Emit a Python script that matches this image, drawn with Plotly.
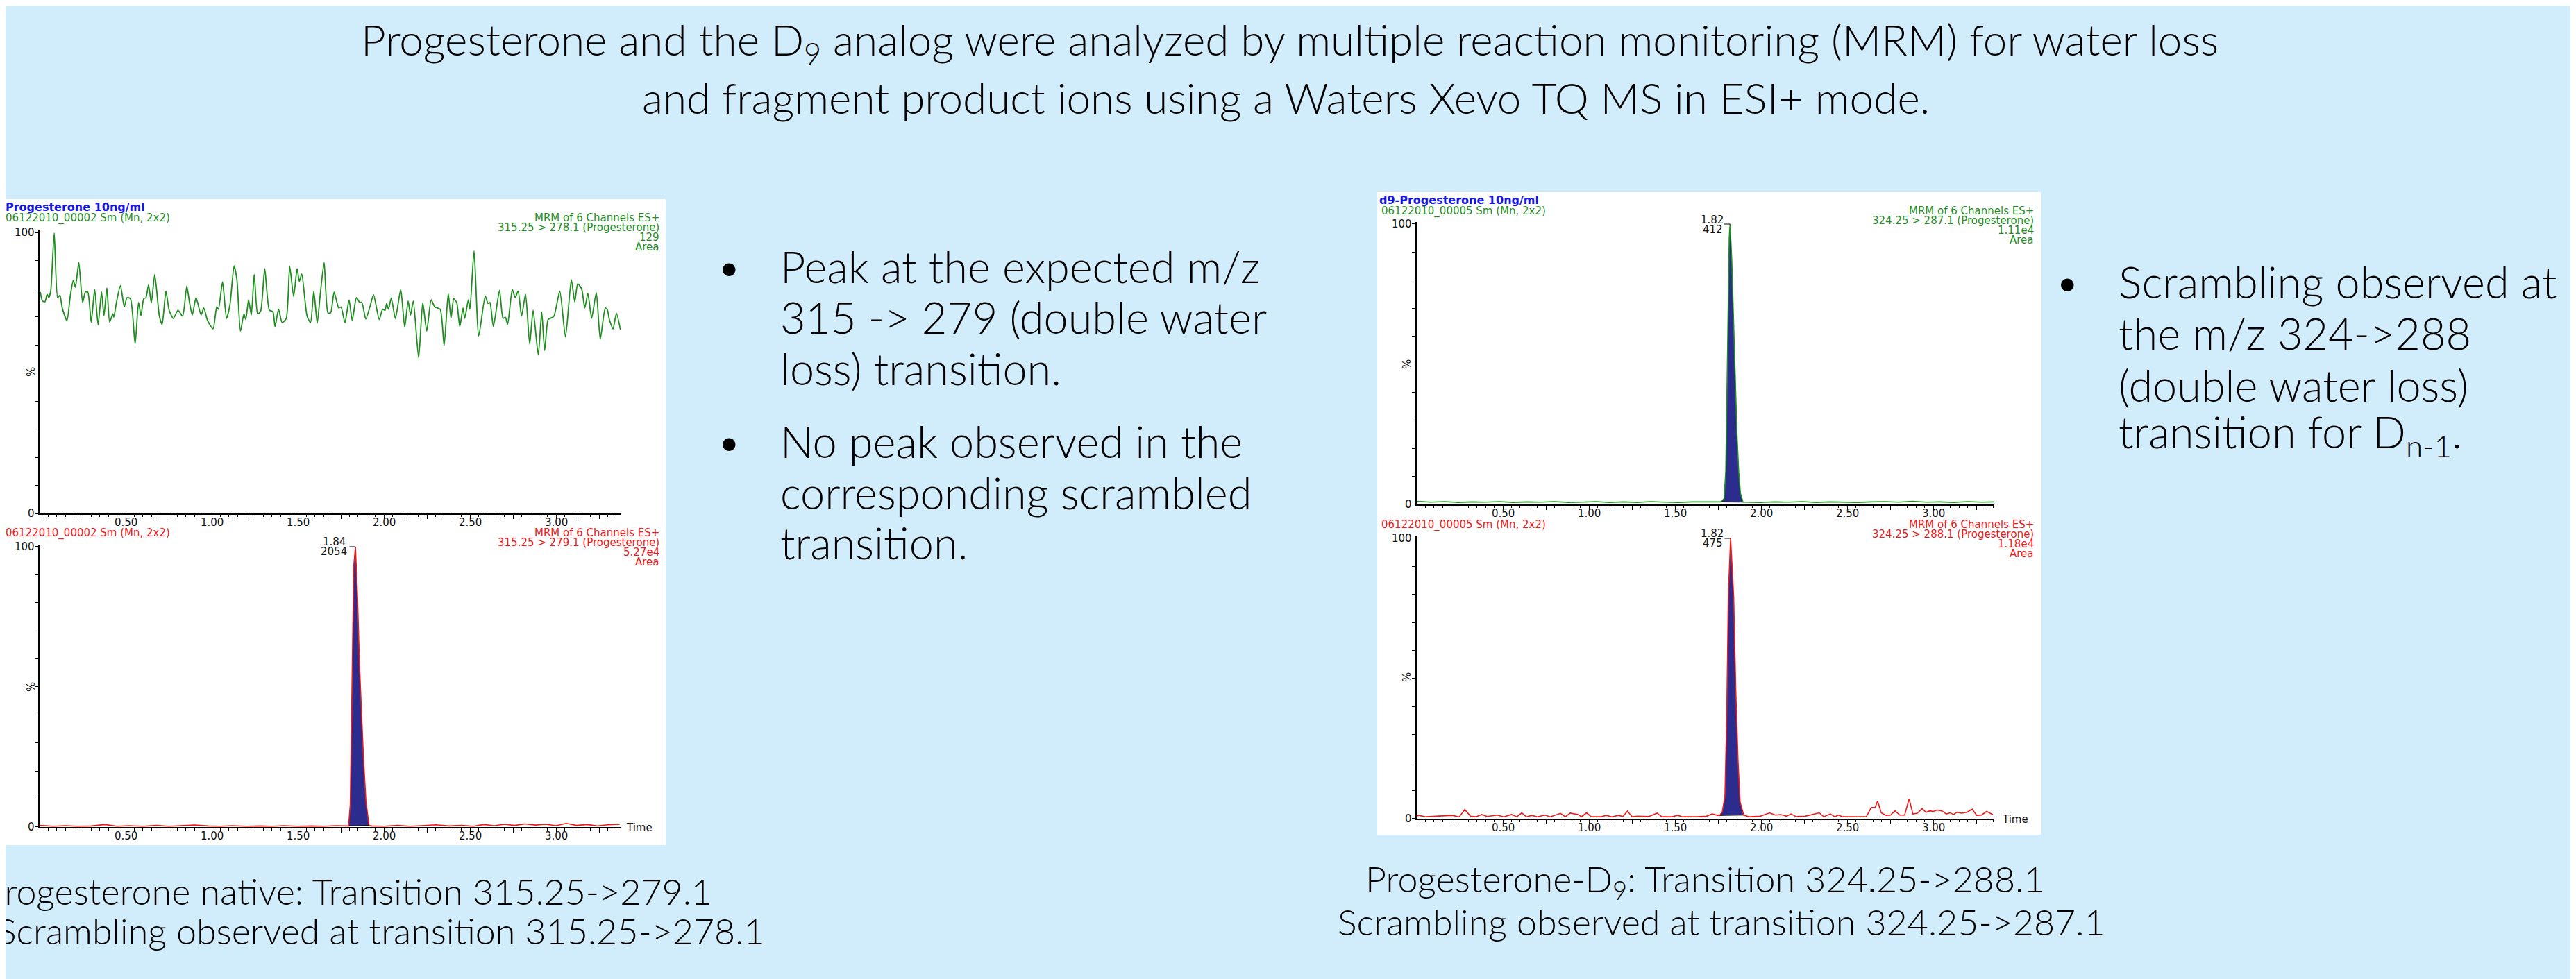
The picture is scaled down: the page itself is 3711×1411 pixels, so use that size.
import plotly.graph_objects as go

# ---------------- data ----------------
# Top-left: Progesterone 10ng/ml, 315.25 > 278.1 (green noise trace)
lt_time = [0.004, 0.017, 0.031, 0.044, 0.054, 0.065, 0.085, 0.105, 0.118, 0.132,
           0.159, 0.179, 0.196, 0.208, 0.228, 0.250, 0.266, 0.280, 0.300, 0.320,
           0.340, 0.360, 0.374, 0.391, 0.407, 0.425, 0.431, 0.448, 0.470, 0.492,
           0.508, 0.528, 0.555, 0.575, 0.589, 0.605, 0.618, 0.633, 0.649, 0.669,
           0.696, 0.712, 0.734, 0.753, 0.777, 0.804, 0.831, 0.855, 0.871, 0.887,
           0.909, 0.938, 0.954, 0.976, 1.008, 1.029, 1.039, 1.063, 1.086, 1.106,
           1.130, 1.146, 1.167, 1.187, 1.198, 1.214, 1.230, 1.247, 1.267, 1.284,
           1.308, 1.335, 1.355, 1.368, 1.388, 1.409, 1.433, 1.453, 1.476, 1.496,
           1.509, 1.523, 1.554, 1.574, 1.593, 1.613, 1.630, 1.653, 1.675,
           1.691, 1.711, 1.738, 1.751, 1.774, 1.798, 1.816, 1.841, 1.859, 1.872,
           1.895, 1.919, 1.940, 1.973, 1.993, 2.007, 2.016, 2.027, 2.043, 2.067,
           2.098, 2.121, 2.141, 2.155, 2.171, 2.202, 2.226, 2.249, 2.275, 2.296,
           2.327, 2.350, 2.374, 2.390, 2.406, 2.423, 2.441, 2.460, 2.470, 2.491,
           2.500, 2.524, 2.551, 2.589, 2.605, 2.616, 2.636, 2.672, 2.692, 2.706,
           2.719, 2.746, 2.763, 2.780, 2.800, 2.823, 2.847, 2.867, 2.897, 2.917,
           2.934, 2.954, 2.970, 2.988, 3.022, 3.055, 3.089, 3.109, 3.126, 3.149,
           3.167, 3.185, 3.207, 3.234, 3.257, 3.286, 3.297, 3.310, 3.331, 3.351,
           3.374]
lt_pct = [78.8, 75.6, 75.3, 78.0, 76.8, 79.3, 99.8, 76.8, 77.6, 73.1,
          68.6, 77.6, 83.0, 80.5, 89.3, 75.1, 78.8, 78.8, 68.1, 79.7,
          67.1, 78.8, 70.4, 80.2, 68.1, 71.0, 69.8, 75.6, 81.1, 73.5,
          76.8, 76.4, 60.3, 75.1, 70.4, 76.4, 76.8, 81.3, 74.9, 85.0,
          70.2, 67.3, 79.1, 72.3, 69.4, 72.3, 70.2, 80.9, 75.1, 70.6,
          76.8, 70.6, 73.1, 68.6, 65.7, 73.5, 72.7, 82.4, 69.4, 74.3,
          88.1, 83.4, 64.9, 71.0, 69.0, 76.0, 70.6, 85.0, 71.0, 71.9,
          87.1, 72.3, 71.9, 66.5, 72.7, 67.9, 69.4, 87.9, 77.2, 87.1,
          82.6, 85.2, 70.2, 67.9, 79.1, 67.7, 77.6, 89.3, 71.4,
          71.4, 78.8, 73.1, 73.5, 67.9, 76.0, 68.7, 76.8, 75.1, 75.1,
          69.2, 73.5, 77.8, 69.0, 72.7, 72.3, 74.7, 72.7, 76.6, 69.4,
          79.7, 66.3, 75.6, 70.6, 75.6, 55.4, 75.0, 64.9, 76.0, 73.5,
          72.7, 59.7, 78.3, 69.5, 76.4, 75.1, 66.5, 73.1, 69.4, 76.1,
          72.7, 93.4, 63.2, 77.4, 74.7, 75.1, 66.5, 79.4, 69.4, 69.8,
          67.3, 79.7, 76.8, 79.1, 70.2, 78.0, 60.3, 72.3, 56.4, 71.7,
          58.0, 69.0, 69.5, 70.2, 79.1, 62.8, 83.2, 75.3, 81.7, 79.9,
          73.1, 78.3, 69.5, 78.6, 62.0, 73.1, 72.7, 69.0, 65.7, 71.2,
          65.4]

# Bottom-left: 315.25 > 279.1 (red), peak at 1.84
lb_pre_time = [0.0, 0.08, 0.15, 0.22, 0.30, 0.38, 0.45, 0.52, 0.60, 0.68, 0.75, 0.82, 0.90,
               0.98, 1.05, 1.12, 1.20, 1.28, 1.35, 1.42, 1.50, 1.58, 1.65, 1.72, 1.78]
lb_pre_pct = [0.6, 0.3, 0.5, 0.3, 0.4, 0.9, 0.3, 0.5, 0.3, 0.6, 0.3, 0.5, 0.7,
              0.4, 0.3, 0.5, 0.3, 0.4, 0.3, 0.5, 0.3, 0.4, 0.3, 0.5, 0.3]
lb_peak_time = [1.795, 1.805, 1.815, 1.825, 1.835, 1.847, 1.859, 1.870, 1.882, 1.896, 1.914]
lb_peak_pct = [0.4, 8, 50, 93, 100, 82, 57, 40, 24, 9, 0.6]
lb_post_time = [1.93, 2.00, 2.08, 2.15, 2.22, 2.30, 2.38, 2.45, 2.52, 2.58, 2.64, 2.70,
                2.76, 2.82, 2.88, 2.94, 3.00, 3.06, 3.12, 3.18, 3.24, 3.30, 3.37]
lb_post_pct = [0.4, 0.3, 0.6, 0.3, 0.5, 0.8, 0.4, 0.6, 0.3, 0.9, 0.5, 1.0,
               0.6, 1.1, 0.7, 1.0, 0.5, 1.3, 0.6, 0.9, 0.4, 0.8, 1.0]

# Top-right: d9-Progesterone, 324.25 > 287.1 (green), peak at 1.82
rt_pre_time = [0.0, 0.08, 0.16, 0.24, 0.32, 0.40, 0.48, 0.56, 0.64, 0.72, 0.80, 0.88,
               0.96, 1.04, 1.12, 1.20, 1.28, 1.36, 1.44, 1.52, 1.60, 1.68, 1.74]
rt_pre_pct = [1.1, 0.8, 1.0, 0.7, 0.9, 0.8, 1.0, 0.7, 0.9, 0.8, 1.0, 0.7,
              0.8, 1.0, 0.7, 0.9, 0.7, 1.0, 0.8, 0.7, 0.9, 0.8, 0.9]
rt_peak_time = [1.765, 1.785, 1.795, 1.805, 1.815, 1.820, 1.830, 1.840, 1.850, 1.860, 1.870, 1.880, 1.895]
rt_peak_pct = [0.9, 2, 12, 55, 95, 100, 87, 66, 44, 25, 12, 4, 0.8]
rt_post_time = [1.92, 2.00, 2.08, 2.16, 2.24, 2.32, 2.40, 2.48, 2.56, 2.64, 2.72, 2.80,
                2.88, 2.96, 3.04, 3.12, 3.20, 3.28, 3.355]
rt_post_pct = [0.8, 0.7, 0.9, 0.8, 1.0, 0.7, 0.9, 0.8, 0.7, 0.9, 1.0, 0.8,
               1.1, 0.8, 0.9, 0.7, 1.0, 0.8, 0.9]

# Bottom-right: 324.25 > 288.1 (red), peak at 1.82 plus scrambling bumps
rb_pre_time = [0.0, 0.010, 0.053, 0.117, 0.204, 0.247, 0.279, 0.312, 0.344, 0.377,
               0.409, 0.467, 0.506, 0.550, 0.582, 0.610, 0.636, 0.668, 0.701, 0.744,
               0.776, 0.835, 0.863, 0.891, 0.938, 0.956, 0.986, 1.014, 1.068, 1.100,
               1.133, 1.171, 1.198, 1.224, 1.251, 1.284, 1.349, 1.396, 1.424, 1.478,
               1.517, 1.543, 1.629, 1.683, 1.716, 1.748]
rb_pre_pct = [1.0, 1.2, 0.7, 0.9, 1.2, 0.7, 3.3, 0.9, 0.7, 1.5,
              0.8, 1.3, 0.7, 1.5, 0.7, 2.1, 0.7, 1.2, 0.7, 1.3,
              0.7, 1.9, 0.7, 2.0, 1.5, 0.7, 2.1, 0.7, 0.7, 1.2,
              0.7, 1.2, 0.8, 2.7, 0.7, 0.9, 0.8, 2.0, 0.7, 0.7,
              1.2, 0.7, 0.7, 0.9, 1.7, 1.2]
rb_peak_time = [1.760, 1.775, 1.790, 1.800, 1.810, 1.823, 1.830, 1.841, 1.853, 1.866, 1.878, 1.899]
rb_peak_pct = [1.2, 2.5, 8, 35, 80, 100, 93, 79, 46, 21, 6, 1.3]
rb_post_time = [1.932, 1.996, 2.050, 2.083, 2.115, 2.148, 2.174, 2.202, 2.256,
                2.310, 2.338, 2.364, 2.403, 2.428, 2.450, 2.472, 2.504, 2.580, 2.612,
                2.640, 2.662, 2.677, 2.698, 2.726, 2.752, 2.778, 2.806, 2.834, 2.860,
                2.882, 2.908, 2.936, 2.958, 2.979, 3.001, 3.022, 3.050, 3.076, 3.098,
                3.119, 3.137, 3.163, 3.195, 3.227, 3.253, 3.281, 3.310, 3.346]
rb_post_pct = [0.7, 0.9, 2.1, 1.3, 1.5, 0.9, 1.7, 0.8, 0.9,
               1.7, 2.1, 0.7, 1.7, 0.7, 1.3, 0.7, 0.7, 0.7, 0.8,
               4.0, 4.0, 6.3, 2.1, 1.2, 1.3, 2.8, 1.3, 1.3, 7.1,
               1.7, 2.0, 3.6, 2.3, 2.8, 2.6, 3.1, 2.8, 1.7, 2.1,
               1.5, 2.3, 2.0, 2.3, 3.4, 1.2, 1.3, 2.6, 1.5]

# axis ticks
x_tick_values = [0.25, 0.50, 0.75, 1.00, 1.25, 1.50, 1.75, 2.00, 2.25, 2.50, 2.75, 3.00, 3.25]
x_label_values = [0.50, 1.00, 1.50, 2.00, 2.50, 3.00]
x_label_texts = ["0.50", "1.00", "1.50", "2.00", "2.50", "3.00"]
y_tick_values = [0, 10, 20, 30, 40, 50, 60, 70, 80, 90, 100]
y_label_values = [0, 100]
y_label_texts = ["0", "100"]

# chart header texts
lt_title = "Progesterone 10ng/ml"
rt_title = "d9-Progesterone 10ng/ml"
left_file = "06122010_00002 Sm (Mn, 2x2)"
right_file = "06122010_00005 Sm (Mn, 2x2)"
lt_info = ["MRM of 6 Channels ES+", "315.25 > 278.1 (Progesterone)", "129", "Area"]
lb_info = ["MRM of 6 Channels ES+", "315.25 > 279.1 (Progesterone)", "5.27e4", "Area"]
rt_info = ["MRM of 6 Channels ES+", "324.25 > 287.1 (Progesterone)", "1.11e4", "Area"]
rb_info = ["MRM of 6 Channels ES+", "324.25 > 288.1 (Progesterone)", "1.18e4", "Area"]
lb_peak_label = ["1.84", "2054"]
rt_peak_label = ["1.82", "412"]
rb_peak_label = ["1.82", "475"]

title_lines = ["Progesterone and the D<sub>9</sub> analog were analyzed by multiple reaction monitoring (MRM) for water loss",
               "and fragment product ions using a Waters Xevo TQ MS in ESI+ mode."]
mid_bullets = [["Peak at the expected m/z", "315 -> 279 (double water", "loss) transition."],
               ["No peak observed in the", "corresponding scrambled", "transition."]]
right_bullets = [["Scrambling observed at", "the m/z 324->288", "(double water loss)",
                  "transition for D<sub>n-1</sub>."]]
left_caption = ["Progesterone native: Transition 315.25->279.1",
                "Scrambling observed at transition 315.25->278.1"]
right_caption = ["Progesterone-D<sub>9</sub>: Transition 324.25->288.1",
                 "Scrambling observed at transition 324.25->287.1"]

# ---------------- styling / layout ----------------
W, H = 3711, 1411
BG = "#D1ECFA"
GREEN = "#1E8F1E"
RED = "#F01818"
BLUE = "#1414E6"
NAVY = "#2B2C8E"
CHART_FONT = "DejaVu Sans"
BIG_FONT = "Lato Light, Lato"
CF = 15  # chart font size


def fx(p):
    return p / W


def fy(p):
    return 1 - p / H


YTOP = 100.8

# pixel geometry of the four chromatograms
panels = {
    "lt": dict(x0=49, tend=3.375, y0=732, y100=327, ax=""),
    "lb": dict(x0=49, tend=3.375, y0=1184, y100=780, ax="2"),
    "rt": dict(x0=2033, tend=3.355, y0=719, y100=315, ax="3"),
    "rb": dict(x0=2033, tend=3.355, y0=1172, y100=768, ax="4"),
}
PPM = 248.0  # pixels per minute

fig = go.Figure()
annotations = []


def text(t, x, y, size, color="black", xanchor="left", family=CHART_FONT, weight=None,
         angle=0, xref="paper", yref="paper"):
    f = dict(family=family, size=size, color=color)
    if weight is not None:
        f["weight"] = weight
    annotations.append(dict(text=t,
                            x=fx(x) if xref == "paper" else x,
                            y=fy(y) if yref == "paper" else y,
                            xref=xref, yref=yref,
                            xanchor=xanchor, yanchor="middle", showarrow=False,
                            font=f, textangle=angle))


layout_axes = {}
for key, p in panels.items():
    xdom = [fx(p["x0"]), fx(p["x0"] + PPM * p["tend"])]
    ytop_px = p["y0"] - (p["y0"] - p["y100"]) * YTOP / 100.0
    ydom = [fy(p["y0"]), fy(ytop_px)]
    ax = p["ax"]
    layout_axes["xaxis" + ax] = dict(
        domain=xdom, range=[0, p["tend"]], anchor="y" + ax,
        showline=True, linecolor="black", linewidth=1.5,
        ticks="outside", ticklen=6, tickwidth=1.3, tickcolor="black",
        tickmode="array", tickvals=x_tick_values, showticklabels=False,
        minor=dict(ticks="outside", ticklen=3, dtick=0.05, tick0=0, tickcolor="black", tickwidth=1),
        showgrid=False, zeroline=False, fixedrange=True)
    layout_axes["yaxis" + ax] = dict(
        domain=ydom, range=[0, YTOP], anchor="x" + ax,
        showline=True, linecolor="black", linewidth=1.5,
        ticks="outside", ticklen=5, tickwidth=1.3, tickcolor="black",
        tickmode="array", tickvals=y_tick_values, showticklabels=False,
        showgrid=False, zeroline=False, fixedrange=True)
    # tick labels placed through the axes' own data coordinates
    for v, s in zip(x_label_values, x_label_texts):
        text(s, v, p["y0"] + 13, CF, "#111", xanchor="center", xref="x" + ax)
    for v, s in zip(y_label_values, y_label_texts):
        text(s, p["x0"] - 5, v, CF, "#111", xanchor="right", yref="y" + ax)


def axref(key):
    ax = panels[key]["ax"]
    return "x" + ax, "y" + ax


# top-left trace
xa, ya = axref("lt")
fig.add_trace(go.Scatter(x=lt_time, y=lt_pct, mode="lines", xaxis=xa, yaxis=ya,
                         line=dict(color=GREEN, width=1.8, shape="spline", smoothing=0.6),
                         hoverinfo="skip"))


def add_peak_chart(key, pre_t, pre_p, pk_t, pk_p, post_t, post_p, color):
    xa, ya = axref(key)
    fig.add_trace(go.Scatter(x=pk_t + [pk_t[0]], y=pk_p + [pk_p[0]], mode="lines",
                             fill="toself", fillcolor=NAVY, line=dict(width=0),
                             xaxis=xa, yaxis=ya, hoverinfo="skip"))
    fig.add_trace(go.Scatter(x=[pk_t[0], pk_t[-1]], y=[pk_p[0], pk_p[-1]], mode="lines",
                             line=dict(color="black", width=1.2), xaxis=xa, yaxis=ya,
                             hoverinfo="skip"))
    fig.add_trace(go.Scatter(x=pre_t + pk_t + post_t, y=pre_p + pk_p + post_p, mode="lines",
                             line=dict(color=color, width=1.6), xaxis=xa, yaxis=ya,
                             hoverinfo="skip"))
    i = pk_p.index(max(pk_p))
    fig.add_trace(go.Scatter(x=[pk_t[i] - 0.035, pk_t[i]], y=[pk_p[i], pk_p[i]], mode="lines",
                             line=dict(color="black", width=1), xaxis=xa, yaxis=ya,
                             hoverinfo="skip"))


add_peak_chart("lb", lb_pre_time, lb_pre_pct, lb_peak_time, lb_peak_pct,
               lb_post_time, lb_post_pct, RED)
add_peak_chart("rt", rt_pre_time, rt_pre_pct, rt_peak_time, rt_peak_pct,
               rt_post_time, rt_post_pct, GREEN)
add_peak_chart("rb", rb_pre_time, rb_pre_pct, rb_peak_time, rb_peak_pct,
               rb_post_time, rb_post_pct, RED)

# ----- chart header texts -----
text("<b>" + lt_title + "</b>", -2, 290, 16, BLUE)
text(left_file, -2, 306, CF, GREEN)
for i, s in enumerate(lt_info):
    text(s, 944, 306 + 14 * i, CF, GREEN, xanchor="right")
text(left_file, -2, 760, CF, RED)
for i, s in enumerate(lb_info):
    text(s, 944, 760 + 14 * i, CF, RED, xanchor="right")

text("<b>" + rt_title + "</b>", 1977, 280, 16, BLUE)
text(right_file, 1980, 296, CF, GREEN)
for i, s in enumerate(rt_info):
    text(s, 2924, 296 + 14 * i, CF, GREEN, xanchor="right")
text(right_file, 1980, 748, CF, RED)
for i, s in enumerate(rb_info):
    text(s, 2924, 748 + 14 * i, CF, RED, xanchor="right")

# peak labels
text(lb_peak_label[0], 492, 773, CF, "#111", xanchor="right")
text(lb_peak_label[1], 494, 787, CF, "#111", xanchor="right")
text(rt_peak_label[0], 2477, 309, CF, "#111", xanchor="right")
text(rt_peak_label[1], 2476, 323, CF, "#111", xanchor="right")
text(rb_peak_label[0], 2477, 761, CF, "#111", xanchor="right")
text(rb_peak_label[1], 2476, 775, CF, "#111", xanchor="right")

# % labels and Time
text("%", 37, 528, CF, "#111", xanchor="center", angle=-90)
text("%", 37, 982, CF, "#111", xanchor="center", angle=-90)
text("%", 2019, 517, CF, "#111", xanchor="center", angle=-90)
text("%", 2019, 968, CF, "#111", xanchor="center", angle=-90)
text("Time", 892, 1185, CF, "#111")
text("Time", 2874, 1173, CF, "#111")

# ----- poster texts -----
BS = 63
text(title_lines[0], 1850, 53, 62, xanchor="center", family=BIG_FONT, weight=300)
text(title_lines[1], 1844, 132, 62, xanchor="center", family=BIG_FONT, weight=300)

mid_y = [[375, 448, 522], [628, 701, 774]]
for b, lines in enumerate(mid_bullets):
    text("•", 1042, mid_y[b][0], BS, xanchor="center", family=BIG_FONT, weight=300)
    for j, s in enumerate(lines):
        text(s, 1114, mid_y[b][j], BS, family=BIG_FONT, weight=300)

right_y = [397, 471, 546, 618]
text("•", 2970, right_y[0], BS, xanchor="center", family=BIG_FONT, weight=300)
for j, s in enumerate(right_bullets[0]):
    text(s, 3042, right_y[j], BS, family=BIG_FONT, weight=300)

CS = 52
text(left_caption[0], 1020, 1276, CS, xanchor="right", family=BIG_FONT, weight=300)
text(left_caption[1], 1096, 1333, CS, xanchor="right", family=BIG_FONT, weight=300)
text(right_caption[0], 2448, 1262, CS, xanchor="center", family=BIG_FONT, weight=300)
text(right_caption[1], 2472, 1320, CS, xanchor="center", family=BIG_FONT, weight=300)

shapes = [
    dict(type="rect", xref="paper", yref="paper", x0=fx(0), x1=fx(951), y0=fy(1210), y1=fy(279),
         fillcolor="white", line=dict(width=0), layer="below"),
    dict(type="rect", xref="paper", yref="paper", x0=fx(1976), x1=fx(2932), y0=fy(1195), y1=fy(269),
         fillcolor="white", line=dict(width=0), layer="below"),
]

fig.update_layout(width=W, height=H, autosize=False, margin=dict(l=0, r=0, t=0, b=0),
                  paper_bgcolor=BG, plot_bgcolor="rgba(0,0,0,0)", showlegend=False,
                  annotations=annotations, shapes=shapes, **layout_axes)

fig.write_html("out.html", include_plotlyjs=True, config={"displayModeBar": False})
